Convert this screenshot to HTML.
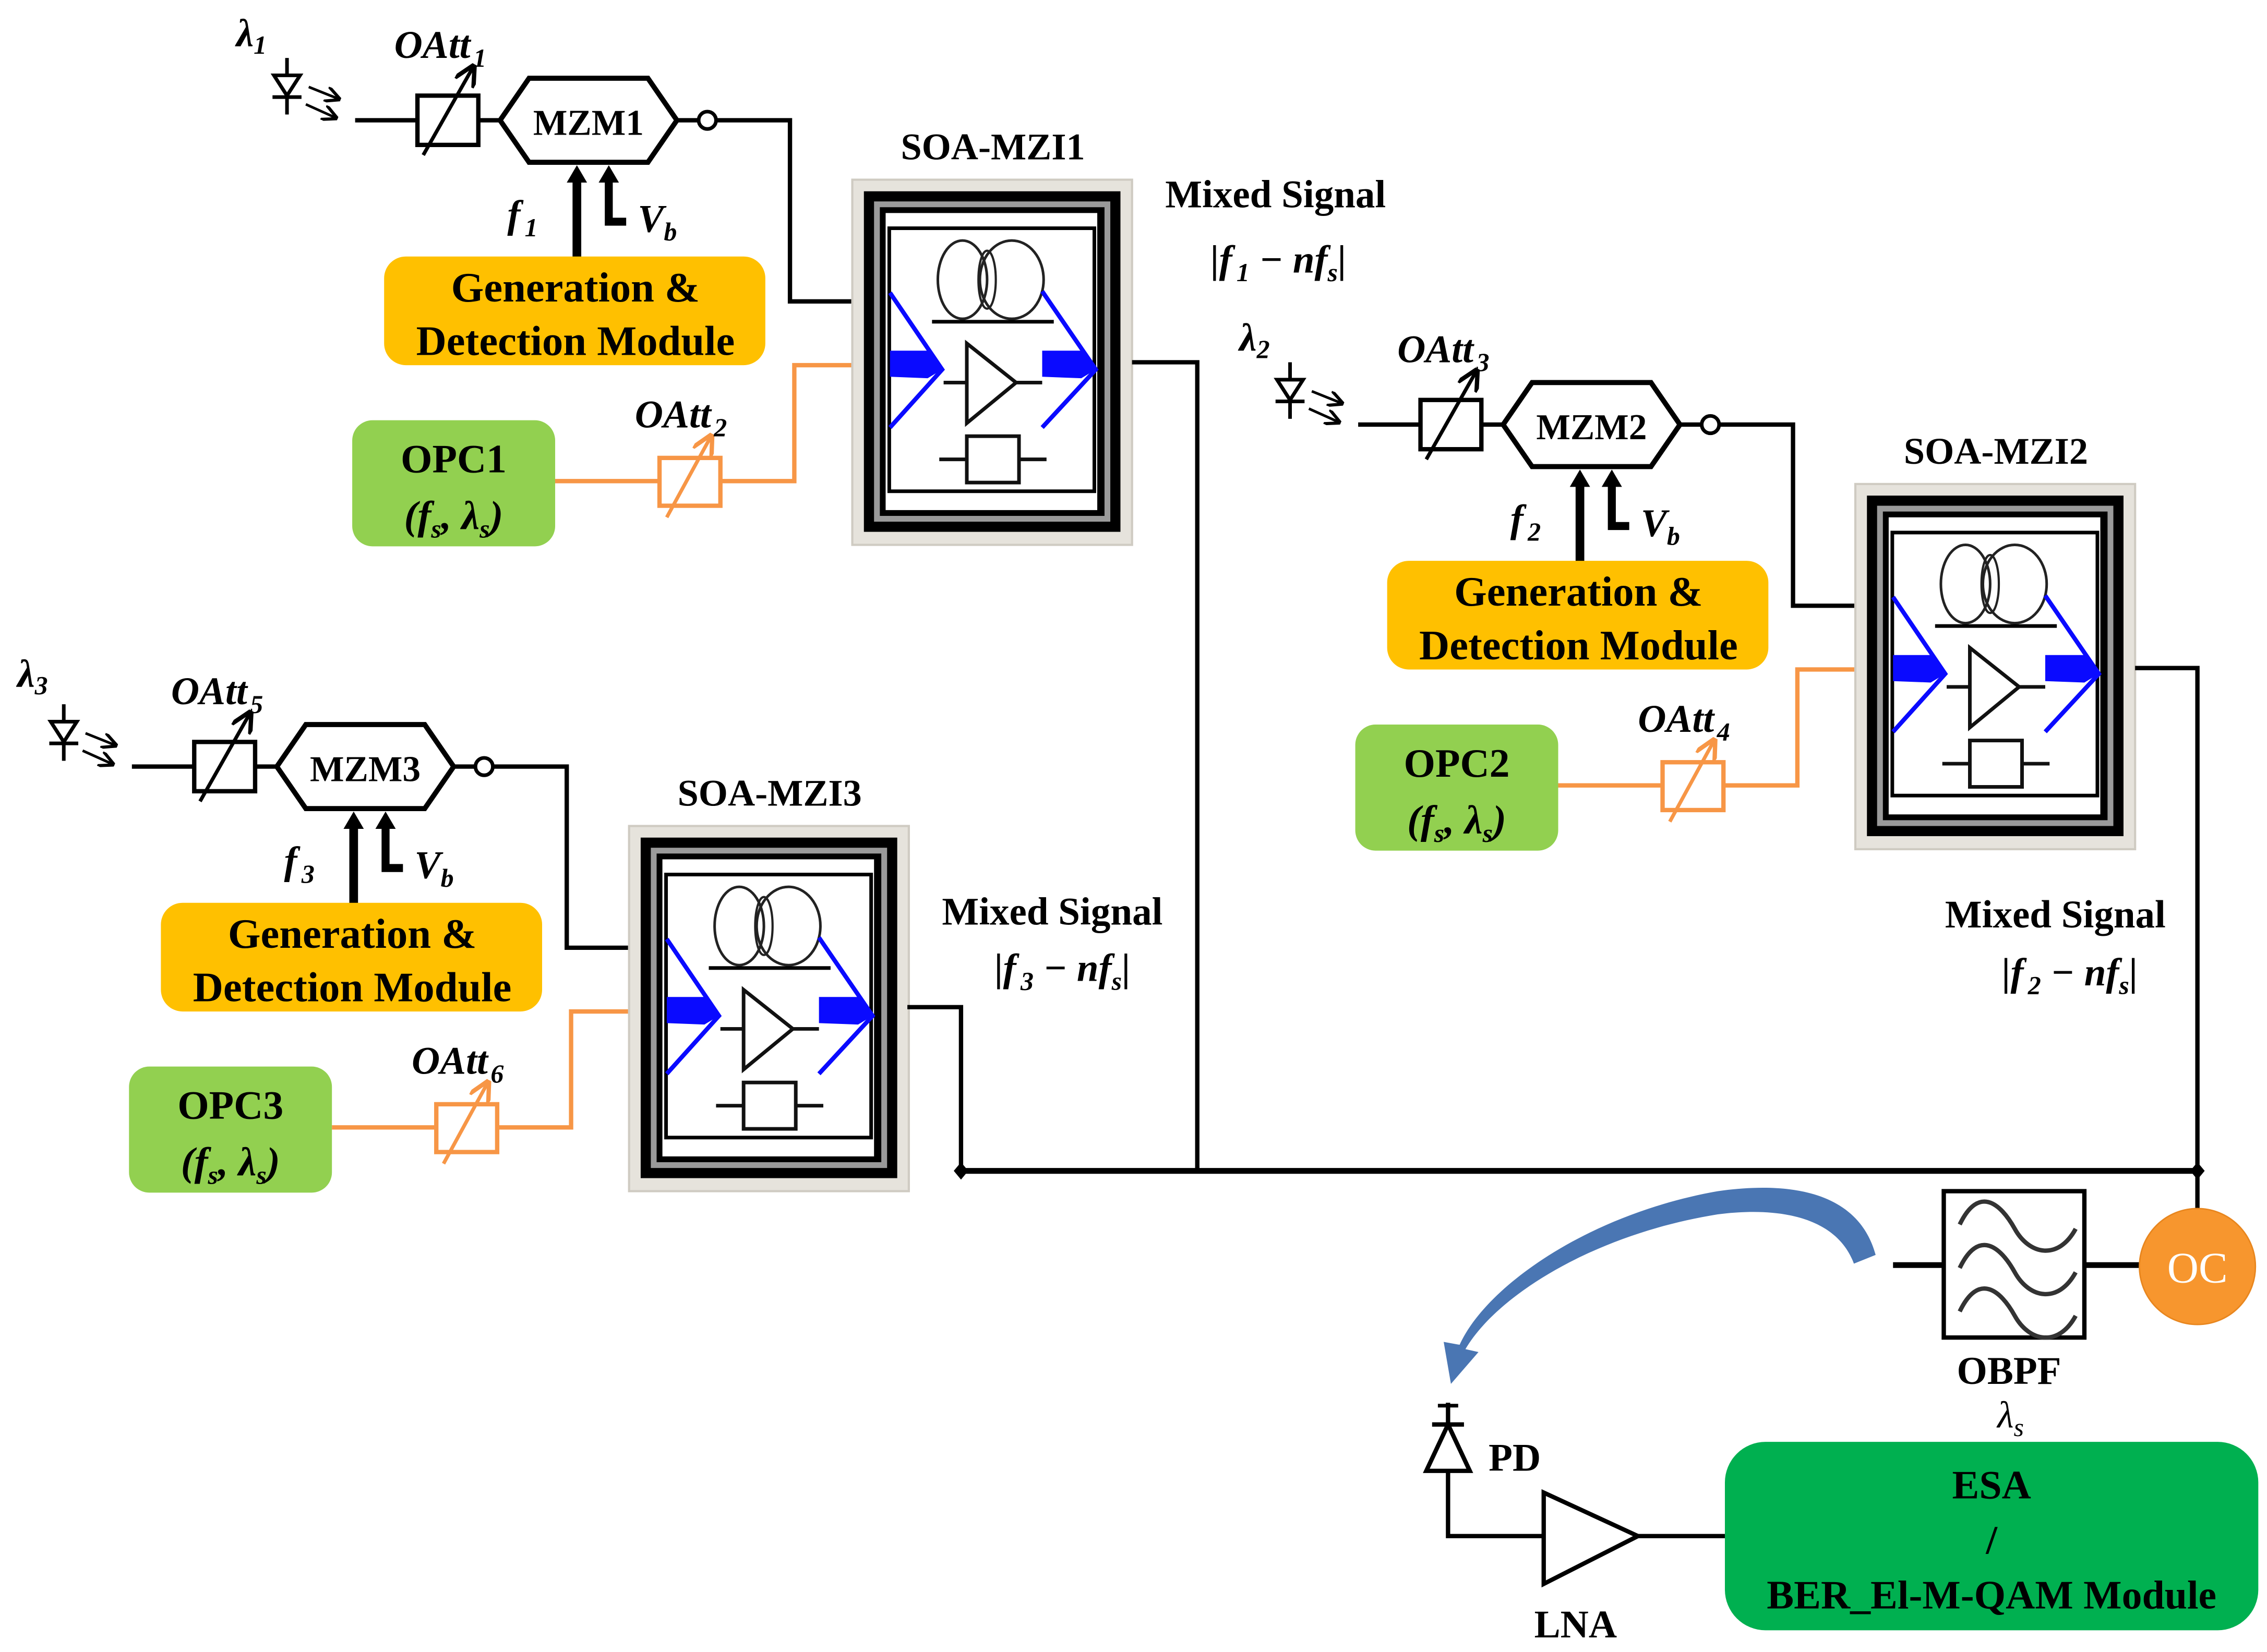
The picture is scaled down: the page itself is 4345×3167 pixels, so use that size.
<!DOCTYPE html>
<html><head><meta charset="utf-8"><style>
html,body{margin:0;padding:0;background:#fff;}
svg{display:block;}
text{font-family:"Liberation Serif",serif;font-weight:bold;}
.it{font-style:italic;}
</style></head><body>
<svg width="4345" height="3167" viewBox="0 0 1564 1140" preserveAspectRatio="none" xmlns="http://www.w3.org/2000/svg">
<defs>
<marker id="ahs" viewBox="0 0 10 10" refX="8" refY="5" markerWidth="6" markerHeight="6" orient="auto"><path d="M0,0L10,5L0,10" fill="none" stroke="#000" stroke-width="2"/></marker>
<marker id="aho" viewBox="0 0 10 10" refX="8" refY="5" markerWidth="6" markerHeight="6" orient="auto"><path d="M0,0L10,5L0,10" fill="none" stroke="#F79646" stroke-width="2"/></marker>
<marker id="ahb" viewBox="0 0 10 10" refX="8" refY="5" markerWidth="6" markerHeight="6" orient="auto"><path d="M0,0L10,5L0,10" fill="none" stroke="#000" stroke-width="2"/></marker>
<g id="soa">
 <rect x="0" y="0" width="193" height="252" fill="#e6e3dc" stroke="#cfcbc2" stroke-width="1.5"/>
 <rect x="8" y="8" width="177" height="235" fill="#000"/>
 <rect x="15" y="15" width="163" height="221" fill="#9a9a9a"/>
 <rect x="19" y="19" width="155" height="213" fill="#000"/>
 <rect x="23" y="23" width="146" height="205" fill="#fff"/>
 <rect x="25.5" y="33.5" width="141.5" height="181.5" fill="#fff" stroke="#000" stroke-width="2.5"/>
 <ellipse cx="76" cy="69" rx="17" ry="27" fill="none" stroke="#222" stroke-width="1.8"/>
 <ellipse cx="110" cy="69" rx="22" ry="27" fill="none" stroke="#222" stroke-width="1.8"/>
 <ellipse cx="93" cy="69" rx="6" ry="20" fill="none" stroke="#222" stroke-width="1.5"/>
 <line x1="55" y1="98" x2="139" y2="98" stroke="#000" stroke-width="2.5"/>
 <polygon points="79,113 113,140 79,168" fill="#fff" stroke="#111" stroke-width="2.5"/>
 <line x1="63" y1="140" x2="79" y2="140" stroke="#111" stroke-width="2.5"/>
 <line x1="113" y1="140" x2="131" y2="140" stroke="#111" stroke-width="2.5"/>
 <line x1="60" y1="193" x2="134" y2="193" stroke="#111" stroke-width="2.5"/>
 <rect x="79" y="177" width="36" height="32" fill="#fff" stroke="#111" stroke-width="2.5"/>
 <polyline points="26,78 62,131 26,171" fill="none" stroke="#0a0aff" stroke-width="3"/>
 <polygon points="26,118 52,118 62,131 52,137 26,136" fill="#0a0aff"/>
 <polyline points="131,77 168,131 131,171" fill="none" stroke="#0a0aff" stroke-width="3"/>
 <polygon points="131,118 158,118 168,131 158,137 131,136" fill="#0a0aff"/>
</g>
<g id="grp">
 <line x1="198" y1="40" x2="198" y2="79" stroke="#000" stroke-width="2.5"/>
 <polygon points="189,52 207,52 198,66" fill="#fff" stroke="#000" stroke-width="2.5"/>
 <line x1="188" y1="67" x2="208" y2="67" stroke="#000" stroke-width="2.5"/>
 <line x1="213" y1="60" x2="233" y2="68" stroke="#000" stroke-width="1.8" marker-end="url(#ahs)"/>
 <line x1="211" y1="72" x2="231" y2="81" stroke="#000" stroke-width="1.8" marker-end="url(#ahs)"/>
 <line x1="245" y1="83" x2="288" y2="83" stroke="#000" stroke-width="3"/>
 <rect x="288" y="66" width="42" height="34" fill="#fff" stroke="#000" stroke-width="3"/>
 <line x1="292" y1="107" x2="326" y2="47" stroke="#000" stroke-width="2.5" marker-end="url(#ahb)"/>
 <line x1="330" y1="83" x2="345" y2="83" stroke="#000" stroke-width="3"/>
 <polygon points="345,83 365,54 447,54 467,83 447,112 365,112" fill="#fff" stroke="#000" stroke-width="3.5"/>
 <line x1="467" y1="83" x2="482" y2="83" stroke="#000" stroke-width="3"/>
 <circle cx="488" cy="83" r="6" fill="#fff" stroke="#000" stroke-width="2.5"/>
 <polyline points="494,83 545,83 545,208 588,208" fill="none" stroke="#000" stroke-width="3"/>
 <line x1="398" y1="178" x2="398" y2="124" stroke="#000" stroke-width="6"/>
 <polygon points="391,126 405,126 398,114" fill="#000"/>
 <polyline points="432,153 420,153 420,124" fill="none" stroke="#000" stroke-width="5.5"/>
 <polygon points="413,126 427,126 420,114" fill="#000"/>
 <rect x="265" y="177" width="263" height="75" rx="15" fill="#FFC000"/>
 <rect x="243" y="290" width="140" height="87" rx="14" fill="#92D050"/>
 <line x1="383" y1="332" x2="455" y2="332" stroke="#F79646" stroke-width="3"/>
 <rect x="455" y="316" width="42" height="33" fill="#fff" stroke="#F79646" stroke-width="3"/>
 <line x1="460" y1="357" x2="490" y2="302" stroke="#F79646" stroke-width="2.5" marker-end="url(#aho)"/>
 <polyline points="497,332 548,332 548,252 588,252" fill="none" stroke="#F79646" stroke-width="3"/>
 <use href="#soa" x="588" y="124"/>
</g>
</defs>

<use href="#grp"/>
<use href="#grp" transform="translate(692,210)"/>
<use href="#grp" transform="translate(-154,446)"/>

<g font-size="27">
<text class="it" x="163" y="32">λ<tspan font-size="18" dy="5">1</tspan></text>
<text class="it" x="272" y="40">OAtt<tspan font-size="18" dy="6" dx="2">1</tspan></text>
<text x="406" y="93" text-anchor="middle" font-size="25">MZM1</text>
<text class="it" x="350" y="157">f<tspan font-size="18" dy="6" dx="3">1</tspan></text>
<text class="it" x="440" y="160">V<tspan font-size="18" dy="6">b</tspan></text>
<text x="397" y="208" text-anchor="middle" font-size="29">Generation &amp;</text>
<text x="397" y="245" text-anchor="middle" font-size="29">Detection Module</text>
<text x="313" y="326" text-anchor="middle" font-size="28">OPC1</text>
<text class="it" x="313" y="365" text-anchor="middle" font-size="28">(f<tspan font-size="18" dy="6">s</tspan><tspan dy="-6">, λ</tspan><tspan font-size="18" dy="6">s</tspan><tspan dy="-6">)</tspan></text>
<text class="it" x="438" y="295">OAtt<tspan font-size="18" dy="6" dx="2">2</tspan></text>
<text x="685" y="110" text-anchor="middle" font-size="26">SOA-MZI1</text>
<text x="880" y="143" text-anchor="middle" font-size="27">Mixed Signal</text>
<text class="it" x="882" y="188" text-anchor="middle" font-size="27">|f<tspan font-size="18" dy="6" dx="3">1</tspan><tspan dy="-6"> − nf</tspan><tspan font-size="18" dy="6">s</tspan><tspan dy="-6">|</tspan></text>
</g>

<g font-size="27" transform="translate(692,210)">
<text class="it" x="163" y="32">λ<tspan font-size="18" dy="5">2</tspan></text>
<text class="it" x="272" y="40">OAtt<tspan font-size="18" dy="6" dx="2">3</tspan></text>
<text x="406" y="93" text-anchor="middle" font-size="25">MZM2</text>
<text class="it" x="350" y="157">f<tspan font-size="18" dy="6" dx="3">2</tspan></text>
<text class="it" x="440" y="160">V<tspan font-size="18" dy="6">b</tspan></text>
<text x="397" y="208" text-anchor="middle" font-size="29">Generation &amp;</text>
<text x="397" y="245" text-anchor="middle" font-size="29">Detection Module</text>
<text x="313" y="326" text-anchor="middle" font-size="28">OPC2</text>
<text class="it" x="313" y="365" text-anchor="middle" font-size="28">(f<tspan font-size="18" dy="6">s</tspan><tspan dy="-6">, λ</tspan><tspan font-size="18" dy="6">s</tspan><tspan dy="-6">)</tspan></text>
<text class="it" x="438" y="295">OAtt<tspan font-size="18" dy="6" dx="2">4</tspan></text>
<text x="685" y="110" text-anchor="middle" font-size="26">SOA-MZI2</text>
</g>
<text x="1418" y="640" text-anchor="middle" font-size="27">Mixed Signal</text>
<text class="it" x="1428" y="680" text-anchor="middle" font-size="27">|f<tspan font-size="18" dy="6" dx="3">2</tspan><tspan dy="-6"> − nf</tspan><tspan font-size="18" dy="6">s</tspan><tspan dy="-6">|</tspan></text>

<g font-size="27" transform="translate(-154,446)">
<text class="it" x="166" y="28">λ<tspan font-size="18" dy="5">3</tspan></text>
<text class="it" x="272" y="40">OAtt<tspan font-size="18" dy="6" dx="2">5</tspan></text>
<text x="406" y="93" text-anchor="middle" font-size="25">MZM3</text>
<text class="it" x="350" y="157">f<tspan font-size="18" dy="6" dx="3">3</tspan></text>
<text class="it" x="440" y="160">V<tspan font-size="18" dy="6">b</tspan></text>
<text x="397" y="208" text-anchor="middle" font-size="29">Generation &amp;</text>
<text x="397" y="245" text-anchor="middle" font-size="29">Detection Module</text>
<text x="313" y="326" text-anchor="middle" font-size="28">OPC3</text>
<text class="it" x="313" y="365" text-anchor="middle" font-size="28">(f<tspan font-size="18" dy="6">s</tspan><tspan dy="-6">, λ</tspan><tspan font-size="18" dy="6">s</tspan><tspan dy="-6">)</tspan></text>
<text class="it" x="438" y="295">OAtt<tspan font-size="18" dy="6" dx="2">6</tspan></text>
<text x="685" y="110" text-anchor="middle" font-size="26">SOA-MZI3</text>
</g>
<text x="726" y="638" text-anchor="middle" font-size="27">Mixed Signal</text>
<text class="it" x="733" y="677" text-anchor="middle" font-size="27">|f<tspan font-size="18" dy="6" dx="3">3</tspan><tspan dy="-6"> − nf</tspan><tspan font-size="18" dy="6">s</tspan><tspan dy="-6">|</tspan></text>

<g fill="none" stroke="#000" stroke-width="3">
<polyline points="781,250 826,250 826,808"/>
<polyline points="1473,461 1516,461 1516,836"/>
<polyline points="626,695 663,695 663,808"/>
<line x1="663" y1="808" x2="1516" y2="808" stroke-width="4"/>
<line x1="1306" y1="873" x2="1341" y2="873" stroke-width="4"/>
<line x1="1438" y1="873" x2="1477" y2="873" stroke-width="4"/>
<polyline points="999,968 999,1060 1065,1060"/>
<line x1="1130" y1="1060" x2="1190" y2="1060"/>
</g>
<polygon points="663,802 668,808 663,814 658,808" fill="#000"/>
<polygon points="1516,802 1521,808 1516,814 1511,808" fill="#000"/>

<rect x="1341" y="822" width="97" height="101" fill="#fff" stroke="#000" stroke-width="3"/>
<g fill="none" stroke="#333" stroke-width="3">
<path d="M1352,845 C1365,818 1380,830 1390,848 S1420,870 1432,848"/>
<path d="M1352,875 C1365,848 1380,860 1390,878 S1420,900 1432,878"/>
<path d="M1352,905 C1365,878 1380,890 1390,908 S1420,930 1432,908"/>
</g>
<text x="1386" y="955" text-anchor="middle" font-size="27">OBPF</text>
<text class="it" x="1378" y="985" font-size="26" style="font-weight:normal">λ<tspan font-size="18" dy="6">s</tspan></text>

<ellipse cx="1516" cy="874" rx="40" ry="40" fill="#F7962E" stroke="#e8861e" stroke-width="1"/>
<text x="1516" y="885" text-anchor="middle" font-size="30" fill="#fff" style="font-weight:normal">OC</text>

<path d="M1294,866 C1282,822 1235,815 1185,822 C1095,838 1025,888 1007,928 L996,926 L1001,955 L1020,933 L1011,931 C1032,895 1098,852 1185,838 C1232,832 1268,842 1279,872 Z" fill="#4a76b3"/>

<line x1="992" y1="970" x2="1006" y2="970" stroke="#000" stroke-width="2.5"/>
<line x1="999" y1="970" x2="999" y2="983" stroke="#000" stroke-width="2.5"/>
<line x1="988" y1="983" x2="1010" y2="983" stroke="#000" stroke-width="3"/>
<polygon points="999,983 984,1015 1014,1015" fill="#fff" stroke="#000" stroke-width="3"/>
<text x="1027" y="1015" font-size="27">PD</text>

<polygon points="1065,1030 1065,1093 1130,1060" fill="#fff" stroke="#000" stroke-width="3"/>
<text x="1087" y="1130" text-anchor="middle" font-size="27">LNA</text>

<rect x="1190" y="995" width="368" height="130" rx="28" fill="#00B050"/>
<text x="1374" y="1034" text-anchor="middle" font-size="28">ESA</text>
<text x="1374" y="1072" text-anchor="middle" font-size="28">/</text>
<text x="1374" y="1110" text-anchor="middle" font-size="28">BER_El-M-QAM Module</text>
</svg>
</body></html>
